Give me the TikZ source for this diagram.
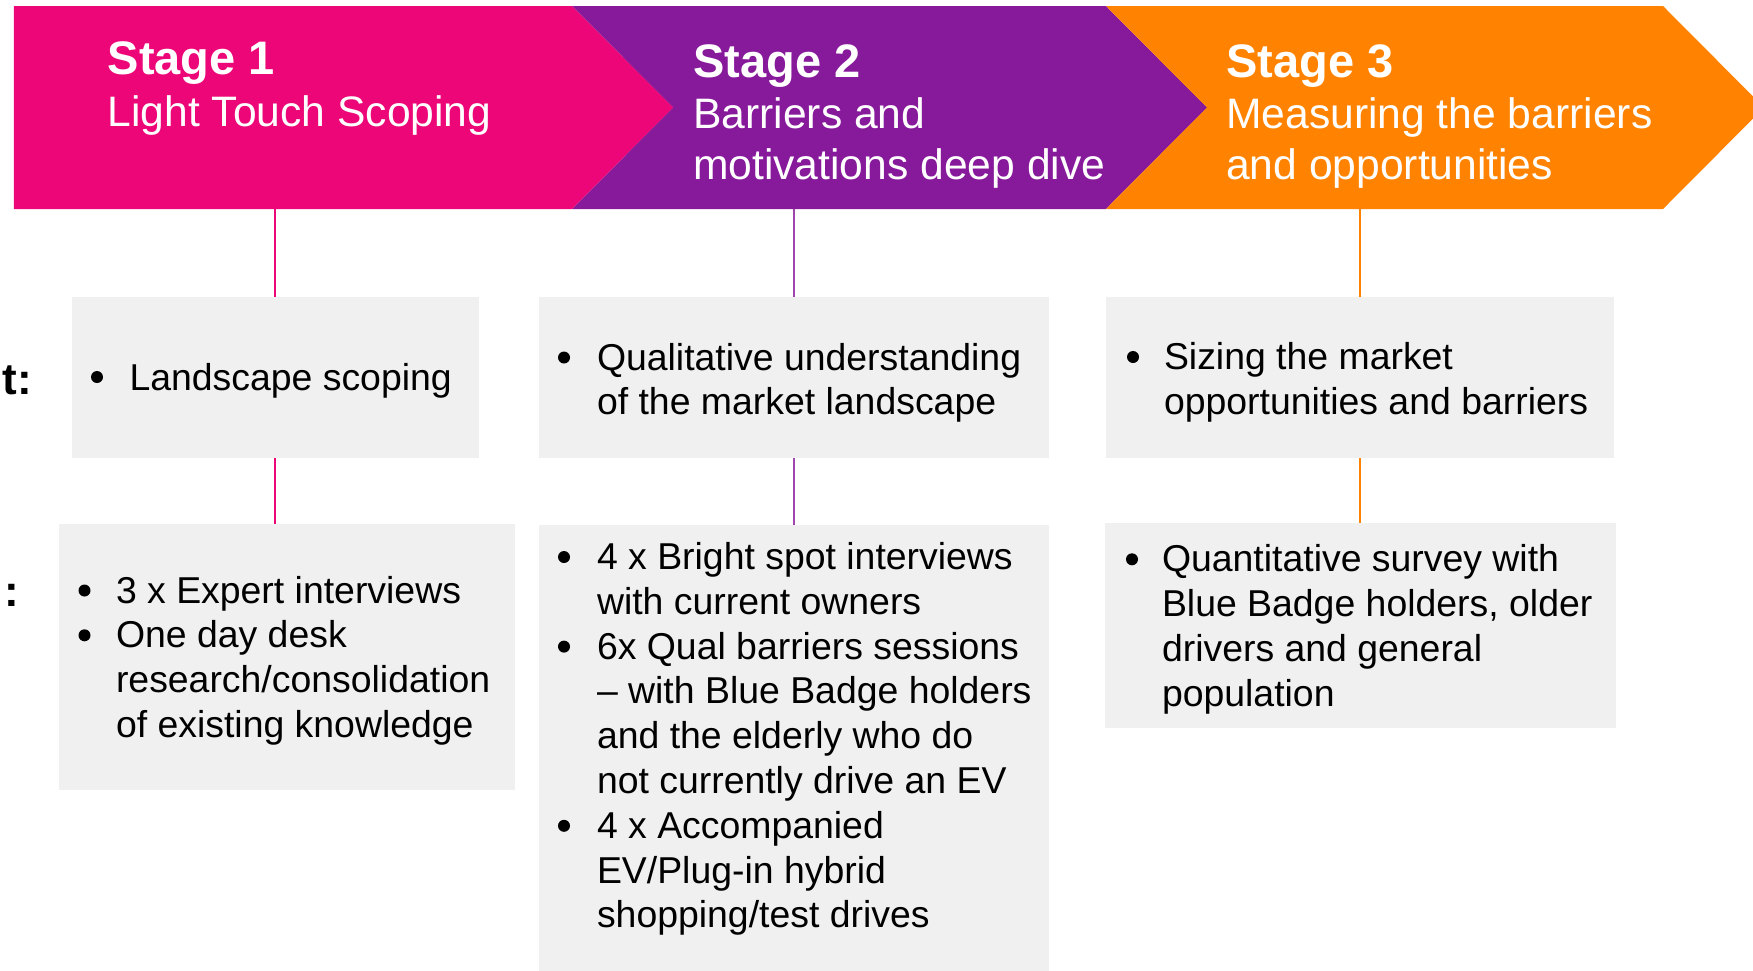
\documentclass[tikz,border=0pt]{standalone}
\usepackage{fontspec}
\setmainfont{Liberation Sans}
\definecolor{spink}{RGB}{236,6,119}
\definecolor{spurple}{RGB}{135,25,155}
\definecolor{sorange}{RGB}{255,131,0}
\definecolor{boxgray}{RGB}{240,240,240}
\tikzset{
  gbox/.style={fill=boxgray, draw=none, inner sep=0pt, outer sep=0pt, rectangle},
  body/.style={anchor=base west, inner sep=0pt, outer sep=0pt, text=black, font=\fontsize{37.4}{44.8}\selectfont},
  bul/.style={circle, fill=black, draw=none, inner sep=0pt, outer sep=0pt, minimum size=12pt},
  ttl/.style={anchor=base west, inner sep=0pt, text=white, font=\bfseries\fontsize{47}{52}\selectfont},
  sub/.style={anchor=base west, inner sep=0pt, text=white, font=\fontsize{42.6}{51.5}\selectfont},
  side/.style={anchor=base east, inner sep=0pt, text=black, font=\bfseries\fontsize{44}{50}\selectfont},
  conn/.style={line width=1.5pt}
}
\newcommand{\pb}[1]{\parbox[t]{480pt}{\raggedright #1}}
\begin{document}
\begin{tikzpicture}[x=1pt,y=-1pt]
\useasboundingbox (0,0) rectangle (1753,970);
% stage banners
\fill[spurple] (572,6) -- (1106,6) -- (1207,107.5) -- (1106,209) -- (572,209) -- (673,107.5) -- cycle;
\fill[sorange] (1106,6) -- (1663,6) -- (1764,107.5) -- (1663,209) -- (1106,209) -- (1207,107.5) -- cycle;
\fill[spink] (13.8,6) -- (572,6) -- (673,107.5) -- (572,209) -- (13.8,209) -- cycle;

\node[ttl] (t1) at (107.5,74) {Stage 1};
\node[sub] (u1) at (107.5,126.7) {\pb{Light Touch Scoping}};
\node[ttl] (t2) at (693,77.3) {Stage 2};
\node[sub] (u2) at (693,128.3) {\pb{Barriers and\\motivations deep dive}};
\node[ttl] (t3) at (1226,77.3) {Stage 3};
\node[sub] (u3) at (1226,128.3) {\pb{Measuring the barriers\\and opportunities}};

\coordinate (s1) at (275,209);
\coordinate (s2) at (794,209);
\coordinate (s3) at (1360,209);

% boxes
\node[gbox, minimum width=407pt, minimum height=161.4pt] (b1) at (275,377.7) {};
\node[gbox, minimum width=510pt, minimum height=161.4pt] (b2) at (794,377.7) {};
\node[gbox, minimum width=508pt, minimum height=161.4pt] (b3) at (1360,377.7) {};
\node[gbox, minimum width=456.4pt, minimum height=266pt] (b4) at (287.2,657) {};
\node[gbox, minimum width=510pt, minimum height=452pt] (b5) at (794,751) {};
\node[gbox, minimum width=511pt, minimum height=204.6pt] (b6) at (1360,625.5) {};

% connectors
\draw[conn, spink] (s1) -- (b1.north);
\draw[conn, spink] (b1.south) -- (b1.south |- b4.north);
\draw[conn, spurple!80] (s2) -- (b2.north);
\draw[conn, spurple!80] (b2.south) -- (b2.south |- b5.north);
\draw[conn, sorange] (s3) -- (b3.north);
\draw[conn, sorange] (b3.south) -- (b3.south |- b6.north);

% side labels
\node[side] (lab1) at (32,394.4) {t:};
\node[side] (lab2) at (19,606) {:};

% box texts
\node[bul] (p1) at (97,377) {};
\node[body] (x1) at (129.5,390.5) {\pb{Landscape scoping}};

\node[bul] (p2) at (564,357.5) {};
\node[body] (x2) at (597,370) {\pb{Qualitative understanding\\of the market landscape}};

\node[bul] (p3) at (1133,357) {};
\node[body] (x3) at (1164,369.5) {\pb{Sizing the market\\opportunities and barriers}};

\node[bul] (p4a) at (84.5,590.5) {};
\node[bul] (p4b) at (84.5,635.3) {};
\node[body] (x4) at (116,603) {\pb{3 x Expert interviews\\One day desk\\research/consolidation\\of existing knowledge}};

\node[bul] (p5a) at (564,557) {};
\node[bul] (p5b) at (564,646.6) {};
\node[bul] (p5c) at (564,825.8) {};
\node[body] (x5) at (597,569.5) {\pb{4 x Bright spot interviews\\with current owners\\6x Qual barriers sessions\\– with Blue Badge holders\\and the elderly who do\\not currently drive an EV\\4 x Accompanied\\EV/Plug-in hybrid\\shopping/test drives}};

\node[bul] (p6) at (1132,559.3) {};
\node[body] (x6) at (1162,571.8) {\pb{Quantitative survey with\\Blue Badge holders, older\\drivers and general\\population}};
\end{tikzpicture}
\end{document}
